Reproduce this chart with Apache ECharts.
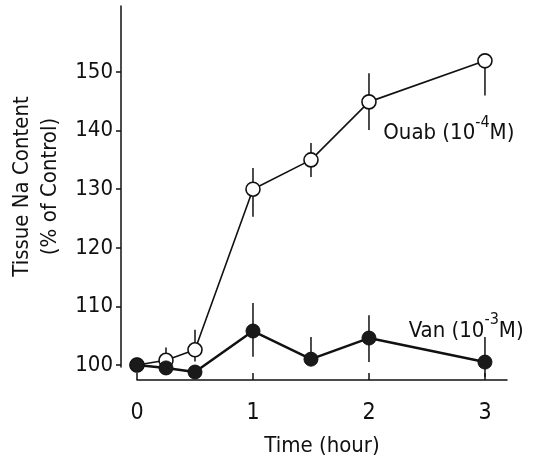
<!DOCTYPE html>
<html>
<head>
<meta charset="utf-8">
<script src="https://cdn.jsdelivr.net/npm/echarts@6/dist/echarts.min.js"></script>
<style>
  html, body { margin: 0; padding: 0; background: #fff; }
  #chart { width: 559px; height: 464px; }
</style>
</head>
<body>
<div id="chart"></div>
<script>
// time points (hour)
const times = [0, 0.25, 0.5, 1, 1.5, 2, 3];
// Ouabain 1e-4 M
const ouabMean = [100, 100.8, 102.6, 130, 135, 144.9, 151.9];
const ouabLow  = [100, 100.8, 100.6, 125.3, 132.1, 140.1, 146];
const ouabHigh = [100, 103, 106, 133.6, 137.9, 149.8, 151.9];
// Vanadate 1e-3 M
const vanMean = [100, 99.5, 98.8, 105.8, 101, 104.6, 100.5];
const vanLow  = [100, 99.5, 98.8, 101.4, 101, 100.5, 98];
const vanHigh = [100, 99.5, 98.8, 110.6, 104.8, 108.5, 104.8];

const xTicks = [0, 1, 2, 3];
const yTicks = [100, 110, 120, 130, 140, 150];

const font = '"DejaVu Sans Condensed", "Liberation Sans Narrow", sans-serif';

const pairs = (xs, ys) => xs.map((x, i) => [x, ys[i]]);
const bars = (lo, hi) => times.map((t, i) => [t, lo[i], hi[i]]);

const errorSeries = (data) => ({
  type: 'custom',
  data: data,
  clip: false,
  z: 1,
  renderItem: function (params, api) {
    const lo = api.coord([api.value(0), api.value(1)]);
    const hi = api.coord([api.value(0), api.value(2)]);
    return {
      type: 'line',
      shape: { x1: lo[0], y1: lo[1], x2: hi[0], y2: hi[1] },
      style: { stroke: '#111', lineWidth: 1.5 }
    };
  },
  encode: { x: 0, y: [1, 2] }
});

const myChart = echarts.init(document.getElementById('chart'));

const option = {
  animation: false,
  backgroundColor: '#fff',
  grid: { left: 137, right: 52, top: 6, bottom: 97, outerBoundsMode: 'none', containLabel: false },
  xAxis: {
    type: 'value',
    min: 0,
    max: 3.19,
    offset: 13,
    name: 'Time (hour)',
    nameLocation: 'middle',
    nameGap: 55,
    nameTextStyle: { fontFamily: font, fontSize: 22, color: '#111' },
    axisLine: { show: true, onZero: false, lineStyle: { color: '#111', width: 1.5 } },
    axisTick: { show: true, inside: true, length: 7, customValues: xTicks, lineStyle: { color: '#111', width: 1.5 } },
    axisLabel: { customValues: xTicks, fontFamily: font, fontSize: 23, color: '#111', margin: 22 },
    splitLine: { show: false }
  },
  yAxis: {
    type: 'value',
    min: 99.66,
    max: 161.26,
    offset: 16,
    name: 'Tissue Na Content\n(% of Control)',
    nameLocation: 'middle',
    nameRotate: 90,
    nameGap: 57,
    nameTextStyle: { fontFamily: font, fontSize: 22, color: '#111', lineHeight: 28 },
    axisLine: { show: true, onZero: false, lineStyle: { color: '#111', width: 1.5 } },
    axisTick: { show: true, length: 5, customValues: yTicks, lineStyle: { color: '#111', width: 1.5 } },
    axisLabel: { customValues: yTicks, fontFamily: font, fontSize: 22, color: '#111', margin: 8 },
    splitLine: { show: false }
  },
  series: [
    errorSeries(bars(ouabLow, ouabHigh)),
    errorSeries(bars(vanLow, vanHigh)),
    {
      name: 'Ouab',
      type: 'line',
      data: pairs(times, ouabMean),
      clip: false,
      z: 3,
      symbol: 'circle',
      symbolSize: 14,
      lineStyle: { color: '#111', width: 1.6 },
      itemStyle: { color: '#fff', borderColor: '#111', borderWidth: 1.6 },
      markPoint: {
        symbol: 'circle',
        symbolSize: 0,
        label: {
          show: true,
          position: 'right',
          formatter: '{n|Ouab (10}{s|-4}{n|M)}',
          rich: {
            n: { fontFamily: font, fontSize: 22, color: '#111', lineHeight: 30, verticalAlign: 'bottom' },
            s: { fontFamily: font, fontSize: 16, color: '#111', lineHeight: 30, verticalAlign: 'top' }
          }
        },
        data: [{ coord: [2.08, 140.2] }]
      }
    },
    {
      name: 'Van',
      type: 'line',
      data: pairs(times, vanMean),
      clip: false,
      z: 4,
      symbol: 'circle',
      symbolSize: 14,
      lineStyle: { color: '#111', width: 2.5 },
      itemStyle: { color: '#1a1a1a', borderColor: '#111', borderWidth: 1 },
      markPoint: {
        symbol: 'circle',
        symbolSize: 0,
        label: {
          show: true,
          position: 'right',
          formatter: '{n|Van (10}{s|-3}{n|M)}',
          rich: {
            n: { fontFamily: font, fontSize: 22, color: '#111', lineHeight: 30, verticalAlign: 'bottom' },
            s: { fontFamily: font, fontSize: 16, color: '#111', lineHeight: 30, verticalAlign: 'top' }
          }
        },
        data: [{ coord: [2.3, 106.5] }]
      }
    }
  ]
};

myChart.setOption(option);
</script>
</body>
</html>
